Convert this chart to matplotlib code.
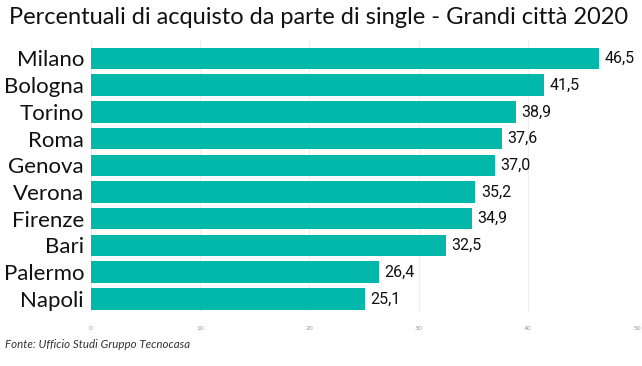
import matplotlib.pyplot as plt

cities = ["Milano", "Bologna", "Torino", "Roma", "Genova", "Verona",
          "Firenze", "Bari", "Palermo", "Napoli"]
values = [46.5, 41.5, 38.9, 37.6, 37.0, 35.2, 34.9, 32.5, 26.4, 25.1]
ticks = [0, 10, 20, 30, 40, 50]

fig = plt.figure(figsize=(6.42, 3.66), dpi=100)
ax = fig.add_axes([91 / 642, 1 - 313 / 366, 546 / 642, 273 / 366])

pos = list(range(len(cities)))
ax.barh(pos, values, height=0.8, color="#01B8AA", zorder=2)
ax.set_ylim(9.53, -0.69)
ax.set_xlim(0, 50)

for y, v in zip(pos, values):
    ax.text(v + 0.5, y, f"{v:.1f}".replace(".", ","), va="center", ha="left",
            fontsize=11.5, family="Roboto", color="#111111")

ax.set_yticks(pos)
ax.set_yticklabels(cities, fontsize=16, family="Lato", color="#111111")
ax.set_xticks(ticks)
ax.set_xticklabels([str(t) for t in ticks], fontsize=4.5, color="#999999")
ax.tick_params(axis="both", length=0)
ax.tick_params(axis="y", pad=5)
ax.tick_params(axis="x", pad=9)
ax.grid(axis="x", color="#eeeeee", linewidth=0.8, zorder=0)
for s in ax.spines.values():
    s.set_visible(False)

fig.text(9 / 642, 1 - 18 / 366, "Percentuali di acquisto da parte di single - Grandi città 2020",
         fontsize=17, family="Lato", va="center", ha="left", color="#111111")
fig.text(5 / 642, 1 - 345 / 366, "Fonte: Ufficio Studi Gruppo Tecnocasa",
         fontsize=8.3, family="Lato", style="italic", va="center", ha="left",
         color="#333333")

fig.savefig("out.png", dpi=100)
